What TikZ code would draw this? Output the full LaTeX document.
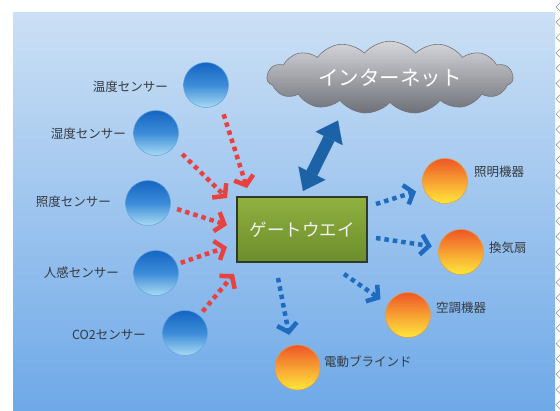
\documentclass[tikz,border=0pt]{standalone}
\usepackage{fontspec}
\setmainfont{Noto Sans CJK JP}
\usetikzlibrary{arrows.meta,calc,shapes.symbols}
\definecolor{bgtop}{HTML}{CCE0F5}
\definecolor{bgbot}{HTML}{6EA9E8}
\definecolor{redarr}{HTML}{E8413F}
\definecolor{bluearr}{HTML}{1E6CC0}
\definecolor{dblblue}{HTML}{1B62A6}
\definecolor{labgray}{HTML}{363A40}
\definecolor{sentop}{HTML}{1565C2}
\definecolor{senmid}{HTML}{3C8CD9}
\definecolor{senbot}{HTML}{A9DAF3}
\definecolor{sendraw}{HTML}{5FA3DD}
\definecolor{devtop}{HTML}{EE5626}
\definecolor{devmid}{HTML}{F7A033}
\definecolor{devbot}{HTML}{FFE83A}
\definecolor{devdraw}{HTML}{E89A3A}
\definecolor{gwtop}{HTML}{90B040}
\definecolor{gwbot}{HTML}{6C8D2C}
\definecolor{gwdraw}{HTML}{2F3A2A}
\definecolor{cltop}{HTML}{D6D7DB}
\definecolor{clbot}{HTML}{6E7078}
\tikzset{
  sensor/.style={circle, minimum size=45pt, inner sep=0pt, draw=sendraw, line width=0.5pt,
    top color=sentop, bottom color=senbot, middle color=senmid},
  device/.style={circle, minimum size=45pt, inner sep=0pt, draw=devdraw, line width=0.5pt,
    top color=devtop, bottom color=devbot, middle color=devmid},
  lab/.style={inner sep=0pt, text=labgray, font=\fontsize{12.5pt}{14pt}\selectfont},
  redline/.style={draw=redarr, line width=4.5pt, dash pattern=on 4.5pt off 4pt,
    -{Straight Barb[length=8pt,width=20pt]}},
  blueline/.style={draw=bluearr, line width=4.5pt, dash pattern=on 4.5pt off 4pt,
    -{Straight Barb[length=8pt,width=20pt]}},
  gwbox/.style={rectangle, minimum width=130pt, minimum height=65pt, draw=gwdraw, line width=2pt,
    top color=gwtop, bottom color=gwbot, text=white!95!black,
    font=\fontsize{17.5pt}{20pt}\selectfont},
  cloudshape/.style={cloud, cloud puffs=15, cloud puff arc=100, aspect=4, minimum width=246pt, minimum height=60pt,
    draw=black!55, line width=0.6pt, top color=cltop, bottom color=clbot, text=white,
    font=\fontsize{20.5pt}{22pt}\selectfont},
  dblarrow/.style={draw=dblblue, line width=12pt,
    {Triangle[length=20pt,width=30pt,line width=0.1pt]}-{Triangle[length=20pt,width=30pt,line width=0.1pt]}},
  chevron/.style={draw=black!45, line width=0.5pt}
}
\begin{document}
\begin{tikzpicture}[x=1pt,y=-1pt]
\useasboundingbox (0,0) rectangle (560,410);
% background panel
\shade[top color=bgtop, bottom color=bgbot] (13,12) rectangle (555,410);
% right edge chevrons
\foreach \i in {0,...,26} {
  \draw[chevron] (560,{7+\i*15.3-4}) -- (556,{7+\i*15.3}) -- (560,{7+\i*15.3+4});
}
% cloud
\node[cloudshape] (net) at (390,77.5) {インターネット};
% gateway
\node[gwbox] (gw) at (302,229.5) {ゲートウエイ};
% sensors
\node[sensor] (s1) at (206,85) {};
\node[sensor] (s2) at (156,133) {};
\node[sensor] (s3) at (148,203) {};
\node[sensor] (s4) at (156,273) {};
\node[sensor] (s5) at (185,333) {};
\node[lab, anchor=east] (l1) at (168,87) {温度センサー};
\node[lab, anchor=east] (l2) at (126,134) {湿度センサー};
\node[lab, anchor=east] (l3) at (111,202) {照度センサー};
\node[lab, anchor=east] (l4) at (119,273) {人感センサー};
\node[lab, anchor=east] (l5) at (146,335) {CO2センサー};
% devices
\node[device] (a1) at (445,181) {};
\node[device] (a2) at (461,252) {};
\node[device] (a3) at (408,315) {};
\node[device] (a4) at (297.5,367.5) {};
\node[lab, anchor=west] (m1) at (474,172) {照明機器};
\node[lab, anchor=west] (m2) at (489,248) {換気扇};
\node[lab, anchor=west] (m3) at (436,308) {空調機器};
\node[lab, anchor=west] (m4) at (324,362) {電動ブラインド};
% sensor arrows
\draw[redline, shorten <=12pt] (s1.-52) -- ($(gw.north west)+(11,-8)$);
\draw[redline, shorten <=11pt] (s2.-36) -- ($(gw.north west)+(-9,2)$);
\draw[redline, shorten <=7pt] (s3.-10) -- ($(gw.west)+(-9,-4.5)$);
\draw[redline, shorten <=4pt] (s4.23) -- ($(gw.west)+(-9,17.5)$);
\draw[redline, shorten <=5pt] (s5.51) -- ($(gw.south west)+(-2,11)$);
% device arrows
\draw[blueline, shorten >=8pt] ($(gw.north east)+(8,8)$) -- (a1.201);
\draw[blueline, shorten >=7pt] ($(gw.east)+(8,8.5)$) -- (a2.168);
\draw[blueline, shorten >=9pt] ($(gw.south east)+(-24,11)$) -- (a3.152);
\draw[blueline, shorten >=11pt] ($(gw.south)+(-24,15)$) -- (a4.106);
% internet link
\draw[dblarrow] ($(gw.north)+(1,-5)$) -- ($(net.center)+(-52,43)$);
\end{tikzpicture}
\end{document}
